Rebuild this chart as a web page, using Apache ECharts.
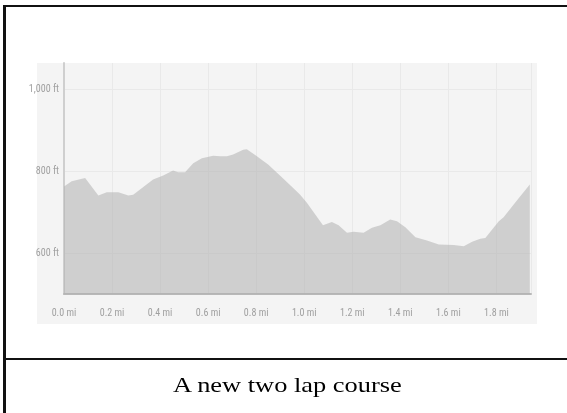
<!DOCTYPE html>
<html>
<head>
<meta charset="utf-8">
<script src="https://cdn.jsdelivr.net/npm/echarts@6/dist/echarts.min.js"></script>
<style>
  html, body { margin: 0; padding: 0; background: #fff; }
  #frame { position: absolute; left: 3px; top: 5px; width: 570px; height: 420px;
           border-left: 3px solid #111; border-top: 2px solid #111; }
  #divider { position: absolute; left: 3px; top: 358px; width: 570px; height: 0;
             border-top: 2px solid #111; }
  #panel { position: absolute; left: 37px; top: 63px; width: 500px; height: 261px; background: #f4f4f4; }
  #main { position: absolute; left: 0; top: 0; width: 567px; height: 413px; }
  #caption { position: absolute; left: 0; width: 574px; top: 372px; text-align: center;
             font-family: "Liberation Serif", "Times New Roman", serif; font-size: 22px; color: #000; }
  #caption span { display: inline-block; transform: scaleX(1.2); }
</style>
</head>
<body>
<div id="frame"></div>
<div id="divider"></div>
<div id="panel"></div>
<div id="main"></div>
<div id="caption"><span>A new two lap course</span></div>
<script>
// distance in miles, elevation in feet
var distance = [0, 0.032, 0.088, 0.143, 0.178, 0.226, 0.268, 0.288, 0.371, 0.413,
    0.454, 0.475, 0.504, 0.538, 0.574, 0.621, 0.65, 0.678, 0.704, 0.746,
    0.761, 0.803, 0.851, 0.91, 0.954, 0.983, 1.011, 1.078, 1.115, 1.143,
    1.178, 1.205, 1.247, 1.282, 1.317, 1.358, 1.386, 1.421, 1.463, 1.511,
    1.56, 1.622, 1.664, 1.699, 1.733, 1.754, 1.81, 1.83, 1.886, 1.939];
var elevation = [763, 776, 784, 741, 749, 749, 741, 743, 780, 790,
    802, 798, 798, 820, 832, 838, 837, 837, 841, 853,
    854, 837, 816, 784, 759, 743, 723, 668, 676, 668,
    650, 652, 650, 662, 668, 682, 678, 663, 639, 631,
    621, 620, 617, 628, 635, 637, 678, 688, 729, 768];
var yTicks = [600, 800, 1000];

var points = [];
for (var i = 0; i < distance.length; i++) {
    points.push([distance[i], elevation[i]]);
}

var myChart = echarts.init(document.getElementById('main'));
var labelFont = '"Liberation Sans Narrow", "Roboto Condensed", "Liberation Sans", sans-serif';
var option = {
    animation: false,
    grid: { left: 64, top: 63, right: 36, bottom: 119 },
    xAxis: {
        type: 'value',
        min: 0,
        max: 1.944,
        interval: 0.2,
        axisLine: { show: true, lineStyle: { color: '#b8b8b8', width: 2 } },
        axisTick: { show: false },
        axisLabel: {
            showMaxLabel: false,
            margin: 14,
            color: '#a0a0a0',
            fontSize: 10,
            fontFamily: labelFont,
            formatter: function (v) { return v.toFixed(1) + ' mi'; }
        },
        splitLine: { show: true, lineStyle: { color: '#e9e9e9', width: 1 } }
    },
    yAxis: {
        type: 'value',
        min: 500,
        max: 1065,
        axisLine: { show: true, lineStyle: { color: '#cfcfcf', width: 2 } },
        axisTick: { show: false, customValues: yTicks },
        axisLabel: {
            customValues: yTicks,
            margin: 5,
            color: '#a0a0a0',
            fontSize: 10,
            fontFamily: labelFont,
            formatter: function (v) { return (v >= 1000 ? '1,' + String(v).slice(1) : v) + ' ft'; }
        },
        splitLine: { show: true, lineStyle: { color: '#e9e9e9', width: 1 } }
    },
    series: [{
        type: 'line',
        data: points,
        symbol: 'none',
        lineStyle: { width: 0 },
        areaStyle: { color: '#b0b0b0', opacity: 0.55 }
    }]
};
myChart.setOption(option);
</script>
</body>
</html>
